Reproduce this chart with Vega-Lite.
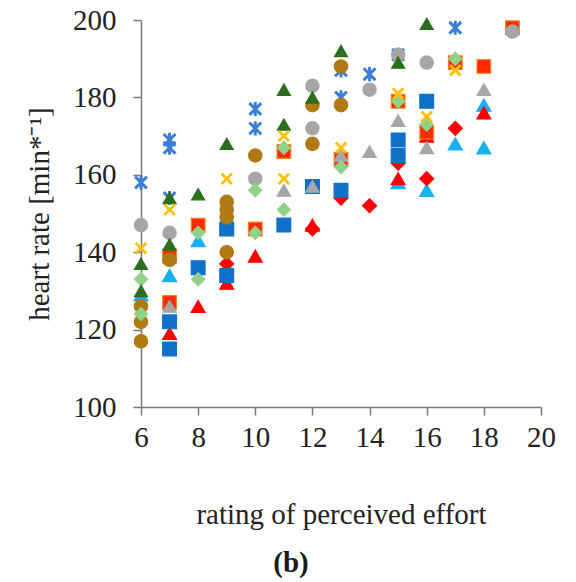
{
  "$schema": "https://vega.github.io/schema/vega-lite/v6.json",
  "width": 400,
  "height": 387,
  "autosize": "none",
  "padding": {"left": 141, "top": 20, "right": 35, "bottom": 175},
  "background": "white",
  "title": {"text": "(b)", "orient": "bottom", "anchor": "middle", "dx": -50, "offset": 20, "font": "Liberation Serif, Times New Roman, serif", "fontSize": 29, "fontWeight": "bold", "color": "#1a1a1a"},
  "config": {
    "view": {"stroke": null},
    "axis": {"grid": false, "domainColor": "#7a7a7a", "domainWidth": 1.5, "tickColor": "#7a7a7a", "tickWidth": 1.5, "tickSize": 8, "labelFont": "Liberation Serif, Times New Roman, serif", "labelFontSize": 29, "labelColor": "#222222", "titleFont": "Liberation Serif, Times New Roman, serif", "titleFontSize": 29, "titleFontWeight": "normal", "titleColor": "#222222"}
  },
  "datasets": {
    "pts": [
      {"s":"L","x":6,"y":129},{"s":"L","x":7,"y":134},{"s":"L","x":8,"y":143},{"s":"L","x":9,"y":147},{"s":"L","x":15,"y":158},{"s":"L","x":16,"y":156},{"s":"L","x":17,"y":168},{"s":"L","x":18,"y":178},{"s":"L","x":18,"y":167},
      {"s":"K","x":9,"y":137},{"s":"K","x":12,"y":146},{"s":"K","x":13,"y":154},{"s":"K","x":14,"y":152},{"s":"K","x":15,"y":163},{"s":"K","x":16,"y":159},{"s":"K","x":17,"y":172},
      {"s":"J","x":7,"y":119},{"s":"J","x":8,"y":126},{"s":"J","x":9,"y":132},{"s":"J","x":10,"y":139},{"s":"J","x":12,"y":147},{"s":"J","x":15,"y":159},{"s":"J","x":16,"y":170},{"s":"J","x":18,"y":176},
      {"s":"I","x":7,"y":122},{"s":"I","x":7,"y":115},{"s":"I","x":8,"y":136},{"s":"I","x":9,"y":146},{"s":"I","x":9,"y":134},{"s":"I","x":11,"y":147},{"s":"I","x":12,"y":157},{"s":"I","x":13,"y":156},{"s":"I","x":15,"y":169},{"s":"I","x":15,"y":165},{"s":"I","x":16,"y":179},
      {"s":"F","x":7,"y":127},{"s":"F","x":7,"y":139},{"s":"F","x":8,"y":147},{"s":"F","x":10,"y":146},{"s":"F","x":11,"y":166},{"s":"F","x":13,"y":164},{"s":"F","x":15,"y":179},{"s":"F","x":16,"y":171},{"s":"F","x":17,"y":189},{"s":"F","x":18,"y":188},{"s":"F","x":19,"y":198},
      {"s":"H","x":7,"y":126},{"s":"H","x":11,"y":156},{"s":"H","x":12,"y":157},{"s":"H","x":13,"y":165},{"s":"H","x":14,"y":166},{"s":"H","x":15,"y":174},{"s":"H","x":16,"y":167},{"s":"H","x":18,"y":182},
      {"s":"E","x":6,"y":126},{"s":"E","x":6,"y":122},{"s":"E","x":6,"y":117},{"s":"E","x":7,"y":138},{"s":"E","x":9,"y":153},{"s":"E","x":9,"y":151},{"s":"E","x":9,"y":149},{"s":"E","x":9,"y":140},{"s":"E","x":10,"y":165},{"s":"E","x":12,"y":178},{"s":"E","x":12,"y":168},{"s":"E","x":13,"y":188},{"s":"E","x":13,"y":178},
      {"s":"C","x":6,"y":147},{"s":"C","x":7,"y":145},{"s":"C","x":10,"y":159},{"s":"C","x":12,"y":183},{"s":"C","x":12,"y":172},{"s":"C","x":14,"y":182},{"s":"C","x":15,"y":191},{"s":"C","x":16,"y":189},{"s":"C","x":19,"y":197},
      {"s":"G","x":6,"y":133},{"s":"G","x":6,"y":124},{"s":"G","x":8,"y":145},{"s":"G","x":8,"y":133},{"s":"G","x":10,"y":156},{"s":"G","x":10,"y":145},{"s":"G","x":11,"y":167},{"s":"G","x":11,"y":151},{"s":"G","x":13,"y":162},{"s":"G","x":15,"y":179},{"s":"G","x":16,"y":173},{"s":"G","x":17,"y":190},
      {"s":"B","x":6,"y":137},{"s":"B","x":6,"y":130},{"s":"B","x":7,"y":154},{"s":"B","x":7,"y":142},{"s":"B","x":8,"y":155},{"s":"B","x":9,"y":168},{"s":"B","x":11,"y":182},{"s":"B","x":11,"y":173},{"s":"B","x":12,"y":180},{"s":"B","x":13,"y":192},{"s":"B","x":15,"y":189},{"s":"B","x":16,"y":199}
    ],
    "star": [
      {"s":"A","x":6,"y":158},{"s":"A","x":7,"y":169},{"s":"A","x":7,"y":167},{"s":"A","x":7,"y":154},{"s":"A","x":10,"y":177},{"s":"A","x":10,"y":172},{"s":"A","x":13,"y":187},{"s":"A","x":13,"y":180},{"s":"A","x":14,"y":186},{"s":"A","x":15,"y":191},{"s":"A","x":17,"y":198}
    ],
    "cross": [
      {"s":"D","x":6,"y":141},{"s":"D","x":7,"y":151},{"s":"D","x":9,"y":159},{"s":"D","x":11,"y":170},{"s":"D","x":11,"y":159},{"s":"D","x":13,"y":167},{"s":"D","x":15,"y":181},{"s":"D","x":16,"y":175},{"s":"D","x":17,"y":187}
    ]
  },
  "encoding": {
    "x": {"field": "x", "type": "quantitative", "scale": {"domain": [6, 20], "nice": false, "zero": false}, "axis": {"values": [6, 8, 10, 12, 14, 16, 18, 20], "labelPadding": 8, "title": "rating of perceived effort", "titlePadding": 48, "labelFlush": false}},
    "y": {"field": "y", "type": "quantitative", "scale": {"domain": [100, 200], "nice": false, "zero": false}, "axis": {"values": [100, 120, 140, 160, 180, 200], "labelPadding": 17, "title": "heart rate [min*⁻¹]", "titlePadding": 18, "labelFlush": false}}
  },
  "layer": [
    {
      "data": {"name": "star"},
      "mark": {"type": "point", "filled": false, "shape": "M-1,-1L1,1M1,-1L-1,1M0,-1.2L0,1.2", "size": 140, "stroke": "#3a7fd5", "strokeWidth": 3, "opacity": 1}
    },
    {
      "data": {"name": "pts"},
      "mark": {"type": "point", "filled": true, "opacity": 1, "strokeWidth": 1.2},
      "encoding": {
        "shape": {"field": "s", "type": "nominal", "legend": null, "scale": {"domain": ["L","K","J","I","F","H","E","C","G","B"], "range": ["triangle-up","diamond","triangle-up","square","square","triangle-up","circle","circle","diamond","triangle-up"]}},
        "color": {"field": "s", "type": "nominal", "legend": null, "scale": {"domain": ["L","K","J","I","F","H","E","C","G","B"], "range": ["#1ab0ef","#ff0000","#ff0000","#1170c9","#ff2a00","#a6a6a6","#b07a12","#a6a6a6","#92d18a","#2b6e1d"]}},
        "stroke": {"field": "s", "type": "nominal", "legend": null, "scale": {"domain": ["L","K","J","I","F","H","E","C","G","B"], "range": ["#1ab0ef","#ff0000","#ff0000","#1170c9","#f58220","#a6a6a6","#b07a12","#a6a6a6","#92d18a","#2b6e1d"]}},
        "size": {"field": "s", "type": "nominal", "legend": null, "scale": {"domain": ["L","K","J","I","F","H","E","C","G","B"], "range": [200,170,200,170,170,200,175,175,170,200]}}
      }
    },
    {
      "data": {"name": "cross"},
      "mark": {"type": "point", "filled": false, "shape": "M-1,-1L1,1M1,-1L-1,1", "size": 110, "stroke": "#ffc000", "strokeWidth": 2.8, "opacity": 1}
    }
  ]
}
